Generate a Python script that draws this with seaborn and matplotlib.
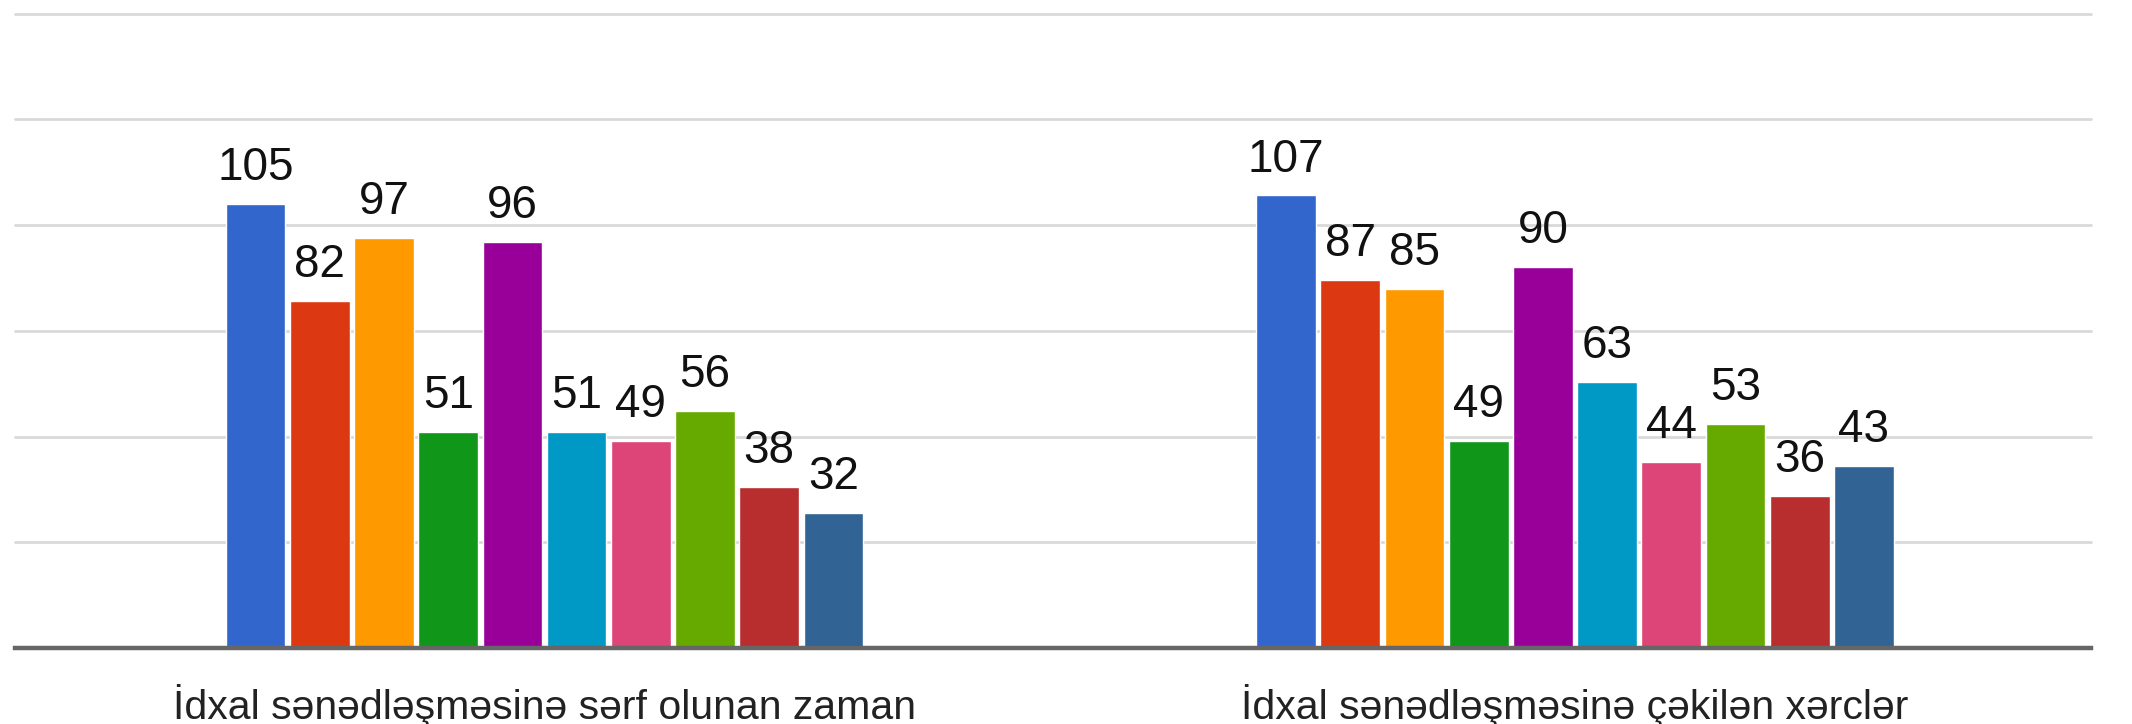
import matplotlib
matplotlib.use("Agg")
import matplotlib.pyplot as plt
import seaborn as sns
import pandas as pd

# Categories on the x axis
categories = [
    "İdxal sənədləşməsinə sərf olunan zaman",
    "İdxal sənədləşməsinə çəkilən xərclər",
]
# Ten series per category
series = ["S1", "S2", "S3", "S4", "S5", "S6", "S7", "S8", "S9", "S10"]
values_time = [105, 82, 97, 51, 96, 51, 49, 56, 38, 32]
values_cost = [107, 87, 85, 49, 90, 63, 44, 53, 36, 43]

palette = ["#3366cc", "#dc3912", "#ff9900", "#109618", "#990099",
           "#0099c6", "#dd4477", "#66aa00", "#b82e2e", "#316395"]

rows = []
for cat, vals in zip(categories, [values_time, values_cost]):
    for s, v in zip(series, vals):
        rows.append({"category": cat, "series": s, "value": v})
df = pd.DataFrame(rows)

sns.set_theme(style="white")
plt.rcParams["font.family"] = ["Liberation Sans", "DejaVu Sans"]

fig = plt.figure(figsize=(21.32, 7.24), dpi=100)
ax = fig.add_axes([0.00704, 0.105, 0.9737, 0.8762])

sns.barplot(data=df, x="category", y="value", hue="series", order=categories,
            hue_order=series, palette=palette, width=0.623, gap=0.07,
            legend=False, ax=ax, saturation=1)

ax.set_xlim(-0.5138, 1.5006)
ax.set_ylim(0, 150)
ax.set_yticks([0, 25, 50, 75, 100, 125, 150])
ax.yaxis.grid(True, color="#d9d9d9", linewidth=2.0)
ax.set_axisbelow(True)
ax.set_yticklabels([])
ax.tick_params(axis="y", length=0)
ax.tick_params(axis="x", length=0, pad=26, labelsize=29.5, labelcolor="#222222")
ax.set_xlabel("")
ax.set_ylabel("")
for side in ["left", "right", "top"]:
    ax.spines[side].set_visible(False)
ax.spines["bottom"].set_color("#666666")
ax.spines["bottom"].set_linewidth(3.2)
for line in ax.get_ygridlines():
    line.set_clip_on(False)

for container in ax.containers:
    ax.bar_label(container, fmt="%d", padding=10, fontsize=33, color="#111111")

fig.savefig("out.png", dpi=100, facecolor="white")
